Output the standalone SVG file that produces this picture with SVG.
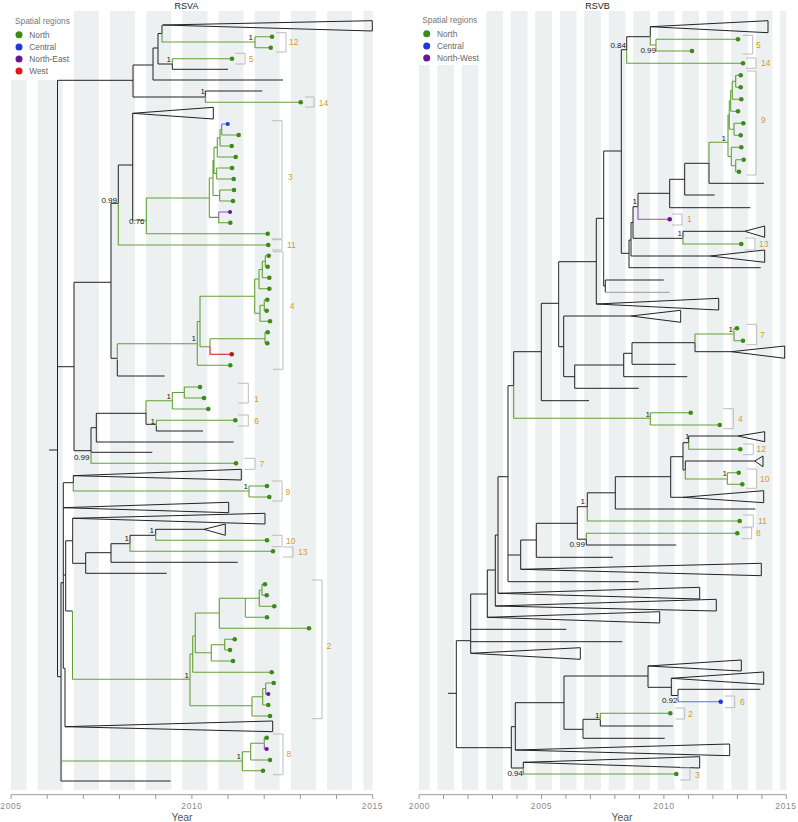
<svg xmlns="http://www.w3.org/2000/svg" width="798" height="822" viewBox="0 0 798 822">
<style>
text{font-family:"Liberation Sans",Arial,sans-serif}
.st{fill:#edf0f1}
.k{stroke:#222;fill:none;stroke-width:1}
.gy{stroke:#9a9a9a;fill:none;stroke-width:1}
.g{stroke:#62a034;fill:none;stroke-width:1.1}
.p{stroke:#9a4fbd;fill:none;stroke-width:1.1}
.b{stroke:#5b6ee6;fill:none;stroke-width:1.1}
.r{stroke:#d3121b;fill:none;stroke-width:1.1}
.tri{stroke:#222;fill:none;stroke-width:1}
.dg{fill:#3e8a16}.db{fill:#2236e8}.dp{fill:#6c168e}.dr{fill:#c80e18}
.br{stroke:#bcbcbc;fill:none;stroke-width:1}
.cl{font-size:8.5px;fill:#d39b30}
.sl{font-size:8px;fill:#1a1a1a}
.ax{stroke:#9a9a9a;fill:none;stroke-width:1}
.tl{font-size:8.5px;fill:#8a8a8a;letter-spacing:0.6px;text-anchor:middle}
.yl{font-size:10.5px;fill:#555;text-anchor:middle}
.ti{font-size:9px;fill:#222;text-anchor:middle}
.lh{font-size:8.3px;fill:#777}
.lt{font-size:8.3px;fill:#666}
</style>
<rect width="798" height="822" fill="#fff"/>
<g id="bg-left">
<rect class="st" x="11" y="11" width="15.7" height="779"/>
<rect class="st" x="37.7" y="11" width="25" height="779"/>
<rect class="st" x="73.9" y="11" width="25" height="779"/>
<rect class="st" x="110" y="11" width="25" height="779"/>
<rect class="st" x="146.2" y="11" width="25" height="779"/>
<rect class="st" x="182.4" y="11" width="25" height="779"/>
<rect class="st" x="218.5" y="11" width="25" height="779"/>
<rect class="st" x="254.7" y="11" width="25" height="779"/>
<rect class="st" x="290.9" y="11" width="25" height="779"/>
<rect class="st" x="327.1" y="11" width="25" height="779"/>
<rect class="st" x="363.4" y="11" width="9.3" height="779"/>
<rect x="11" y="11" width="62" height="69" fill="#fff"/>
</g>
<g id="bg-right">
<rect class="st" x="419" y="11" width="10.7" height="779"/>
<rect class="st" x="437.3" y="11" width="16.7" height="779"/>
<rect class="st" x="461.8" y="11" width="16.7" height="779"/>
<rect class="st" x="486.3" y="11" width="16.7" height="779"/>
<rect class="st" x="510.8" y="11" width="16.7" height="779"/>
<rect class="st" x="535.3" y="11" width="16.7" height="779"/>
<rect class="st" x="559.8" y="11" width="16.7" height="779"/>
<rect class="st" x="584.2" y="11" width="16.7" height="779"/>
<rect class="st" x="608.7" y="11" width="16.7" height="779"/>
<rect class="st" x="633.2" y="11" width="16.7" height="779"/>
<rect class="st" x="657.7" y="11" width="16.7" height="779"/>
<rect class="st" x="682.2" y="11" width="16.7" height="779"/>
<rect class="st" x="706.7" y="11" width="16.7" height="779"/>
<rect class="st" x="731.2" y="11" width="16.7" height="779"/>
<rect class="st" x="755.7" y="11" width="16.7" height="779"/>
<rect class="st" x="780.2" y="11" width="6.1" height="779"/>
<rect x="419" y="11" width="62" height="54" fill="#fff"/>
</g>
<g id="titles">
<text class="ti" x="186.5" y="9">RSVA</text>
<text class="ti" x="597.5" y="9">RSVB</text>
</g>
<g id="legend-left">
<text class="lh" x="15" y="24">Spatial regions</text>
<circle class="dg" cx="19" cy="34.7" r="3.5"/><text class="lt" x="29.3" y="37.6">North</text>
<circle class="db" cx="19" cy="47" r="3.5"/><text class="lt" x="29.3" y="49.9">Central</text>
<circle class="dp" cx="19" cy="59" r="3.5"/><text class="lt" x="29.3" y="61.9">North-East</text>
<circle cx="19" cy="71" r="3.5" fill="#e4161b"/><text class="lt" x="29.3" y="73.9">West</text>
</g>
<g id="legend-right">
<text class="lh" x="422.3" y="23">Spatial regions</text>
<circle class="dg" cx="426.7" cy="33.7" r="3.5"/><text class="lt" x="437" y="36.6">North</text>
<circle class="db" cx="426.7" cy="46" r="3.5"/><text class="lt" x="437" y="48.9">Central</text>
<circle class="dp" cx="426.7" cy="58" r="3.5"/><text class="lt" x="437" y="60.9">North-West</text>
</g>
<g id="connectors">
<path class="k" d="M49 450H57.5M57.5 80.3V676.7M57.5 80.3H133M133 65V97M133 65H153M153 48V80M153 80H283M153 48H158M158 33.5V64M158 64H172.3M158 33.5H162M162 25V33.5M172.3 64V69.3M172.3 69.3H228M133 97H205.3M205.3 91V96.7M205.3 91H262.3M57.5 366.7H74M74 282.3V450.7M74 282.3H111M111 203.3V358.3M111 203.3H118.3M118.3 165V203.3M118.3 165H132.7M132.7 113.3V220.3M111 358.3H117.3M117.3 359.8V376M117.3 376H164.7M74 450.7H91M91 427.7V452.3M91 427.7H96.3M96.3 413.3V442M96.3 442H233.7M91 452.3H152.3M96.3 413.3H146M146 412.5V424.3M146 424.3H156.3M156.3 425.7V431M156.3 431H203M63.3 482.7V668.3M63.3 482.7H73.3M73.3 475.7V483.3M61 582.7V781M57.5 676.7H61M61 781H170.7M61 582.7H63.3M63.3 575H65.7M65.7 540.8V611M65.7 540.8H72.7M72.7 518.3V563.3M72.7 563.3H85.7M85.7 552.7V573.3M85.7 552.7H111M85.7 573.3H166.7M111 543.7V562.3M111 543.7H130M111 562.3H237.7M130 535.3V543.3M130 535.3H155.7M155.7 529.3V534.8M155.7 529.3H204M63.3 668.3H65M65 668.3V726.7M65.7 611H72.5"/>
<path class="tri" d="M162.7 25L372.3 20.7V31ZM132.7 113.3L213.3 107.3V119ZM73.3 475.7L241.3 469.3V480ZM63.3 507.7L228.7 502.3V512.7ZM72.7 518.3L265 513.3V524ZM204 529.3L225.3 524V535.3ZM65 726.7L272.7 721V731.7Z"/>
<path class="g" d="M162 33.5V42H255M255 36.7V47.7M255 36.7H272M255 47.7H270.7M172.3 58.7V64M172.3 58.7H232M205.3 96.7V102.3H300.7M118.3 203.3V245H268.3M132.7 220.3H146.3M146.3 198V233.7M146.3 198H209.3M146.3 233.7H267.7M209.3 178V217.4M209.3 178H213M213 160.5V195.5M213 160.5H214M214 147.4V173.5M214 147.4H217.3M217.3 137.8V157M217.3 137.8H220M220 129.5V146M220 129.5H221.7M221.7 129.5V135M221.7 135H238.7M220 146H231.7M217.3 157H235.7M214 173.5H216.7M216.7 168V179M216.7 168H232M216.7 179H233.7M213 195.5H219.7M219.7 190V201M219.7 190H234M219.7 201H233M209.3 217.4H218.7M218.7 217.4V222.7H230.3"/>
<path class="b" d="M221.7 124V129.5M221.7 124H227.7"/>
<path class="p" d="M218.7 212V217.4M218.7 212H230"/>
<path class="g" d="M117.3 343.7V359.8M117.3 343.7H197.3M197.3 321.5V365.3M197.3 365.3H230.3M197.3 321.5H200M200 296.3V346.7M200 296.3H254.7M254.7 279V313.3M254.7 279H259M259 269.5V288.7M259 269.5H262.3M262.3 261.2V277.7M262.3 261.2H265.3M265.3 255.7V266.7M265.3 255.7H268.7M265.3 266.7H267.7M262.3 277.7H269.3M259 288.7H269.3M254.7 313.3H260M260 305.2V321.3M260 305.2H264.3M264.3 299.7V310.7M264.3 299.7H267.3M264.3 310.7H266.7M260 321.3H270M200 346.7H210M210 338.7V346.5M210 338.7H265M265 332.3V343.3M265 332.3H267.7M265 343.3H267.3"/>
<path class="r" d="M210 346.5V354.3H231.7"/>
<path class="g" d="M146 400.7V412.5M146 400.7H172.3M172.3 392.5V409M172.3 392.5H184.3M184.3 387V398M184.3 387H200M184.3 398H204M172.3 409H208.3M156.3 420.3V425.7M156.3 420.3H235.3M91 452.3V463.3H236M73.3 483.3V491H249M249 486V497M249 486H267M249 497H269.3M155.7 534.8V540.3H267M130 543.3V551.3H273"/>
<path class="g" d="M72.5 611V679.3H190M190 654V705.7M190 654H192.7M192.7 636V672.3M192.7 636H195.3M195.3 613V652.8M195.3 613H219.3M219.3 598.3V628.3M219.3 598.3H259.3M245.3 598.3V617.3M259.3 590V606.3M259.3 590H262M262 584.3V595.3M262 584.3H265M262 595.3H266.7M259.3 606.3H274.3M245.3 617.3H267M219.3 628.3H309M195.3 652.8H211.3M211.3 644.7V661M211.3 644.7H224.7M224.7 639.3V650M224.7 639.3H234.7M224.7 650H230M211.3 661H233M192.7 672.3H271.7M190 705.7H252M252 696.7V716M252 696.7H262.7M262.7 688.5V705M262.7 688.5H265.7M265.7 683V688.5M265.7 683H273.7M262.7 705H268.3M252 716H270"/>
<path class="p" d="M265.7 688.5V694H268.3M264.3 743.3V749H266.7"/>
<path class="g" d="M61 761H242.3M242.3 751.7V770.7M242.3 751.7H250.7M250.7 743.3V760M250.7 743.3H264.3M264.3 737.7V743.3M264.3 737.7H266.7M250.7 760H270M242.3 770.7H263"/>
<path class="k" d="M448 693.3H456.3M456.3 640.7V747.7M456.3 640.7H470.7M470.7 594V653.3M470.7 594H487.3M470.7 629.3H566.3M470.7 641.7H622.3M487.3 570V617.3M487.3 570H495.3M495.3 535V606M495.3 535H498M498 476.7V593.3M498 476.7H508M508 385.7V581.7M508 385.7H513.7M513.7 351.7V385.7M513.7 351.7H541.3M541.3 303.3V400.7M541.3 400.7H589M541.3 303.3H558.7M558.7 261.7V346.7M558.7 261.7H596.3M596.3 218.3V304M596.3 218.3H603.7M603.7 151V286M603.7 286H605.3M605.3 280V292.3M605.3 280H663.7M603.7 151H621.3M621.3 49.7V253.3M621.3 49.7H626.7M626.7 36.7V50M626.7 36.7H650.3M650.3 26.7V36M621.3 253.3H629M629 240V267.7M629 267.7H760.7M629 240H631M631 222.5V256M631 256H710.3M631 222.5H633M633 206.7V238.3M633 238.3H683M683 231.3V237.7M683 231.3H744.7M633 206.7H638M638 193.3V206.3M638 193.3H669.7M669.7 179.3V207.7M669.7 207.7H750.3M669.7 179.3H684.7M684.7 163.3V195M684.7 195H714.7M684.7 163.3H709M709 163V183.3M709 183.3H764M558.7 346.7H563.7M563.7 316V376.7M563.7 316H631M563.7 376.7H574.7M574.7 365V388.3M574.7 388.3H638.7M574.7 365H623.7M623.7 353.3V376.7M623.7 376.7H687.3M623.7 353.3H632M632 342.7V364.3M632 364.3H675.7M632 342.7H695M695 343V351.7M695 351.7H731.3M508 555H520.7M520.7 540V569.3M520.7 540H536.3M536.3 523.3V557.3M536.3 557.3H613M536.3 523.3H577.3M577.3 506.7V539.2M577.3 506.7H587.3M587.3 492.8V506.9M587.3 492.8H615.3M615.3 476.7V509M615.3 509H755.3M615.3 476.7H670.7M670.7 456.7V497.3M670.7 497.3H683M670.7 456.7H683M683 442.7V470M683 442.7H688.7M688.7 436V442.7M688.7 436H738M683 470H685.3M685.3 461V470M685.3 461H754.7M577.3 539.2H586.3M586.3 539.2V545M586.3 545H676.3M508 581.7H638.7M456.3 747.7H511.3M511.3 726.7V768M511.3 726.7H515.3M515.3 702.7V750M515.3 702.7H564M564 676V729.3M564 676H648M648 666V687.3M648 687.3H671.3M671.3 678.3V695.5M671.3 695.5H678M678 689.3V695.5M678 689.3H760.3M564 729.3H583M583 719.3V738.3M583 738.3H664.7M583 719.3H600.3M600.3 719.7V726M600.3 726H673M511.3 768H523.3M523.3 762.3V768"/>
<path class="gy" d="M605.3 292.3H669.7"/>
<path class="tri" d="M650.3 26.7L768 20.7V32.7ZM710.3 256L764.7 250V262.3ZM744.7 231.3L764.7 226V237.3ZM596.3 304L718.7 298.3V310ZM631 316L680.7 310.3V322.3ZM731.3 351.7L784.7 346V358.3ZM738 436L764.7 431.7V441.7ZM754.7 461L763 456V466.7ZM683 497.3L763.7 490.7V502.7ZM520.7 569.3L761.3 563.3V575.7ZM498 593.3L699.7 587.3V599ZM495.3 606L716.3 599.3V611ZM487.3 617.3L659.7 611.7V623ZM470.7 653.3L580.3 647.7V659.3ZM648 666L741.3 660V671ZM671.3 678.3L763.7 672V684.3ZM515.3 750L729.7 744V755.7ZM523.3 762.3L699.7 756.7V768Z"/>
<path class="g" d="M626.7 50V63.3H743M650.3 36V45H656M656 39.3V51M656 39.3H738M656 51H692M709 142.3V163M709 142.3H728M728 115V156.5M728 115H729.3M729.3 100.8V129.3M729.3 100.8H730.7M730.7 90.3V111.3M730.7 90.3H732.3M732.3 81.3V99.3M732.3 81.3H735.7M735.7 75.3V87.3M735.7 75.3H740.7M735.7 87.3H740.7M732.3 99.3H741.3M730.7 111.3H738M729.3 129.3H734M734 123.3V135.3M734 123.3H743.3M734 135.3H740.7M728 156.5H731.3M731.3 147.3V165.7M731.3 147.3H741.3M731.3 165.7H735.7M735.7 159.7V171.7M735.7 159.7H743.7M735.7 171.7H739M683 237.7V244H741.3M695 334V343M695 334H734M734 328.3V340.7M734 328.3H737M734 340.7H743M513.7 385.7V418.3H650.3M650.3 412.7V425M650.3 412.7H690.7M650.3 425H719.7M688.7 442.7V449.3H740.3M685.3 470V479H727.3M727.3 472.7V484.3M727.3 472.7H738.7M727.3 484.3H742.3M587.3 506.9V521H739.7M586.3 533.3V539.2M586.3 533.3H737.3M600.3 713.3V719.7M600.3 713.3H670.3M523.3 768V774H676.3"/>
<path class="p" d="M638 206.3V219.3H669.7"/>
<path class="b" d="M678 695.5V701.7H720.7"/>
</g>
<g id="tips-left">
<circle class="dg" cx="272" cy="36.7" r="2.3"/><circle class="dg" cx="270.7" cy="47.7" r="2.3"/><circle class="dg" cx="232" cy="58.7" r="2.3"/><circle class="dg" cx="300.7" cy="102.3" r="2.3"/>
<circle class="db" cx="227.7" cy="124" r="2.1"/>
<circle class="dg" cx="238.7" cy="135" r="2.3"/><circle class="dg" cx="231.7" cy="146" r="2.3"/><circle class="dg" cx="235.7" cy="157" r="2.3"/><circle class="dg" cx="232" cy="168" r="2.3"/><circle class="dg" cx="233.7" cy="179" r="2.3"/><circle class="dg" cx="234" cy="190" r="2.3"/><circle class="dg" cx="233" cy="201" r="2.3"/>
<circle class="dp" cx="230" cy="212" r="2.1"/>
<circle class="dg" cx="230.3" cy="222.7" r="2.3"/><circle class="dg" cx="267.7" cy="233.7" r="2.3"/><circle class="dg" cx="268.3" cy="245" r="2.3"/>
<circle class="dg" cx="268.7" cy="255.7" r="2.3"/><circle class="dg" cx="267.7" cy="266.7" r="2.3"/><circle class="dg" cx="269.3" cy="277.7" r="2.3"/><circle class="dg" cx="269.3" cy="288.7" r="2.3"/><circle class="dg" cx="267.3" cy="299.7" r="2.3"/><circle class="dg" cx="266.7" cy="310.7" r="2.3"/><circle class="dg" cx="270" cy="321.3" r="2.3"/><circle class="dg" cx="267.7" cy="332.3" r="2.3"/><circle class="dg" cx="267.3" cy="343.3" r="2.3"/>
<circle class="dr" cx="231.7" cy="354.3" r="2.3"/>
<circle class="dg" cx="230.3" cy="365.3" r="2.3"/>
<circle class="dg" cx="200" cy="387" r="2.3"/><circle class="dg" cx="204" cy="398" r="2.3"/><circle class="dg" cx="208.3" cy="409" r="2.3"/><circle class="dg" cx="235.3" cy="420.3" r="2.3"/><circle class="dg" cx="236" cy="463.3" r="2.3"/><circle class="dg" cx="267" cy="486" r="2.3"/><circle class="dg" cx="269.3" cy="497" r="2.3"/><circle class="dg" cx="267" cy="540.3" r="2.3"/><circle class="dg" cx="273" cy="551.3" r="2.3"/>
<circle class="dg" cx="265" cy="584.3" r="2.3"/><circle class="dg" cx="266.7" cy="595.3" r="2.3"/><circle class="dg" cx="274.3" cy="606.3" r="2.3"/><circle class="dg" cx="267" cy="617.3" r="2.3"/><circle class="dg" cx="309" cy="628.3" r="2.3"/><circle class="dg" cx="234.7" cy="639.3" r="2.3"/><circle class="dg" cx="230" cy="650" r="2.3"/><circle class="dg" cx="233" cy="661" r="2.3"/><circle class="dg" cx="271.7" cy="672.3" r="2.3"/><circle class="dg" cx="273.7" cy="683" r="2.3"/>
<circle class="dp" cx="268.3" cy="694" r="2.1"/>
<circle class="dg" cx="268.3" cy="705" r="2.3"/><circle class="dg" cx="270" cy="716" r="2.3"/>
<circle class="dg" cx="266.7" cy="737.7" r="2.3"/>
<circle class="dp" cx="266.7" cy="749" r="2.1"/>
<circle class="dg" cx="270" cy="760" r="2.3"/><circle class="dg" cx="263" cy="770.7" r="2.3"/>
</g>
<g id="tips-right">
<circle class="dg" cx="738" cy="39.3" r="2.3"/><circle class="dg" cx="692" cy="51" r="2.3"/><circle class="dg" cx="743" cy="63.3" r="2.3"/>
<circle class="dg" cx="740.7" cy="75.3" r="2.3"/><circle class="dg" cx="740.7" cy="87.3" r="2.3"/><circle class="dg" cx="741.3" cy="99.3" r="2.3"/><circle class="dg" cx="738" cy="111.3" r="2.3"/><circle class="dg" cx="743.3" cy="123.3" r="2.3"/><circle class="dg" cx="740.7" cy="135.3" r="2.3"/><circle class="dg" cx="741.3" cy="147.3" r="2.3"/><circle class="dg" cx="743.7" cy="159.7" r="2.3"/><circle class="dg" cx="739" cy="171.7" r="2.3"/>
<circle class="dp" cx="669.7" cy="219.3" r="2.3"/>
<circle class="dg" cx="741.3" cy="244" r="2.3"/><circle class="dg" cx="737" cy="328.3" r="2.3"/><circle class="dg" cx="743" cy="340.7" r="2.3"/><circle class="dg" cx="690.7" cy="412.7" r="2.3"/><circle class="dg" cx="719.7" cy="425" r="2.3"/><circle class="dg" cx="740.3" cy="449.3" r="2.3"/><circle class="dg" cx="738.7" cy="472.7" r="2.3"/><circle class="dg" cx="742.3" cy="484.3" r="2.3"/><circle class="dg" cx="739.7" cy="521" r="2.3"/><circle class="dg" cx="737.3" cy="533.3" r="2.3"/>
<circle class="db" cx="720.7" cy="701.7" r="2.3"/>
<circle class="dg" cx="670.3" cy="713.3" r="2.3"/><circle class="dg" cx="676.3" cy="774" r="2.3"/>
</g>
<g id="support-left" class="sl">
<text x="253" y="40" text-anchor="end">1</text>
<text x="171" y="62" text-anchor="end">1</text>
<text x="205" y="94" text-anchor="end">1</text>
<text x="117" y="203" text-anchor="end">0.99</text>
<text x="129" y="224">0.76</text>
<text x="196" y="341" text-anchor="end">1</text>
<text x="171" y="399" text-anchor="end">1</text>
<text x="155" y="424" text-anchor="end">1</text>
<text x="89.5" y="460" text-anchor="end">0.99</text>
<text x="248" y="489" text-anchor="end">1</text>
<text x="154" y="533" text-anchor="end">1</text>
<text x="129" y="541" text-anchor="end">1</text>
<text x="189" y="678" text-anchor="end">1</text>
<text x="241" y="759" text-anchor="end">1</text>
</g>
<g id="support-right" class="sl">
<text x="626" y="48" text-anchor="end">0.84</text>
<text x="656" y="53" text-anchor="end">0.99</text>
<text x="726" y="141" text-anchor="end">1</text>
<text x="637" y="204" text-anchor="end">1</text>
<text x="682" y="236" text-anchor="end">1</text>
<text x="733" y="332" text-anchor="end">1</text>
<text x="650" y="417" text-anchor="end">1</text>
<text x="689.5" y="439" text-anchor="end">1</text>
<text x="727" y="476" text-anchor="end">1</text>
<text x="585" y="504" text-anchor="end">1</text>
<text x="585" y="547" text-anchor="end">0.99</text>
<text x="677.5" y="703" text-anchor="end">0.92</text>
<text x="599.5" y="718" text-anchor="end">1</text>
<text x="523" y="776" text-anchor="end">0.94</text>
</g>
<g id="clades-left">
<g id="a12"><path class="br" d="M276 32.7H286V52H276"/><text class="cl" x="289" y="45">12</text></g>
<g id="a5"><path class="br" d="M235 53.3H245V64H235"/><text class="cl" x="248.7" y="61.7">5</text></g>
<g id="a14"><path class="br" d="M305 97H314V107H305"/><text class="cl" x="318.7" y="105.7">14</text></g>
<g id="a3"><path class="br" d="M272 120.7H282V239H272"/><text class="cl" x="288" y="180.3">3</text></g>
<g id="a11"><path class="br" d="M272 239.7H282V250H272"/><text class="cl" x="287" y="248.3">11</text></g>
<g id="a4"><path class="br" d="M273 251.7H283V369.3H273"/><text class="cl" x="289.7" y="309.3">4</text></g>
<g id="a1"><path class="br" d="M238.3 383.3H248.3V403H238.3"/><text class="cl" x="254" y="402.3">1</text></g>
<g id="a6"><path class="br" d="M238.3 415H248.3V426H238.3"/><text class="cl" x="254.3" y="423.7">6</text></g>
<g id="a7"><path class="br" d="M244.3 458.3H255V469.3H244.3"/><text class="cl" x="259.5" y="467.3">7</text></g>
<g id="a9"><path class="br" d="M272 481H282V501H272"/><text class="cl" x="285.5" y="494.7">9</text></g>
<g id="a10"><path class="br" d="M272 535.3H282V546.7H272"/><text class="cl" x="286" y="543.7">10</text></g>
<g id="a13"><path class="br" d="M283 547H293V557H283"/><text class="cl" x="298" y="555.3">13</text></g>
<g id="a2"><path class="br" d="M312 580H322V718.7H312"/><text class="cl" x="326.5" y="649.3">2</text></g>
<g id="a8"><path class="br" d="M273 734H283V774.7H273"/><text class="cl" x="286.5" y="757.3">8</text></g>
</g>
<g id="clades-right">
<g id="b5"><path class="br" d="M742.7 35.3H752.7V54H742.7"/><text class="cl" x="756" y="48.3">5</text></g>
<g id="b14"><path class="br" d="M746 58H756V68.3H746"/><text class="cl" x="761" y="66.3">14</text></g>
<g id="b9"><path class="br" d="M747 71H756V175H747"/><text class="cl" x="761" y="123">9</text></g>
<g id="b1"><path class="br" d="M672 214H682V225H672"/><text class="cl" x="687" y="222.3">1</text></g>
<g id="b13"><path class="br" d="M745 238H755V250H745"/><text class="cl" x="759" y="247">13</text></g>
<g id="b7"><path class="br" d="M746.7 324.3H756.7V344.7H746.7"/><text class="cl" x="760" y="338">7</text></g>
<g id="b4"><path class="br" d="M723.3 408.7H733.3V428.7H723.3"/><text class="cl" x="738" y="422">4</text></g>
<g id="b12"><path class="br" d="M743.3 444H753.3V454.7H743.3"/><text class="cl" x="756.5" y="452">12</text></g>
<g id="b10"><path class="br" d="M746.7 469H756.7V488.3H746.7"/><text class="cl" x="760" y="482">10</text></g>
<g id="b11"><path class="br" d="M743.3 515H753.3V527H743.3"/><text class="cl" x="758" y="523.7">11</text></g>
<g id="b8"><path class="br" d="M741.7 527.7H751.7V538.7H741.7"/><text class="cl" x="756" y="536.3">8</text></g>
<g id="b6"><path class="br" d="M724.7 696H734.7V707.7H724.7"/><text class="cl" x="740" y="705">6</text></g>
<g id="b2"><path class="br" d="M675.3 708H684.7V719H675.3"/><text class="cl" x="688" y="717.3">2</text></g>
<g id="b3"><path class="br" d="M680 768H690V780H680"/><text class="cl" x="695" y="778">3</text></g>
</g>
<g id="axis-left">
<path class="ax" d="M11 794.7H372.7M11 794.7V799M47.2 794.7V799M83.3 794.7V799M119.5 794.7V799M155.7 794.7V799M191.9 794.7V799M228 794.7V799M264.2 794.7V799M300.4 794.7V799M336.5 794.7V799M372.7 794.7V799"/>
<text class="tl" x="11" y="808.5">2005</text>
<text class="tl" x="192" y="808.5">2010</text>
<text class="tl" x="372.5" y="808.5">2015</text>
<text class="yl" x="182" y="821">Year</text>
</g>
<g id="axis-right">
<path class="ax" d="M419 794.7H786.3M419 794.7V799M443.5 794.7V799M468 794.7V799M492.5 794.7V799M517 794.7V799M541.5 794.7V799M565.9 794.7V799M590.4 794.7V799M614.9 794.7V799M639.4 794.7V799M663.9 794.7V799M688.4 794.7V799M712.9 794.7V799M737.4 794.7V799M761.9 794.7V799M786.3 794.7V799"/>
<text class="tl" x="419.5" y="808.5">2000</text>
<text class="tl" x="541.5" y="808.5">2005</text>
<text class="tl" x="664" y="808.5">2010</text>
<text class="tl" x="786" y="808.5">2015</text>
<text class="yl" x="622" y="821">Year</text>
</g>
</svg>
